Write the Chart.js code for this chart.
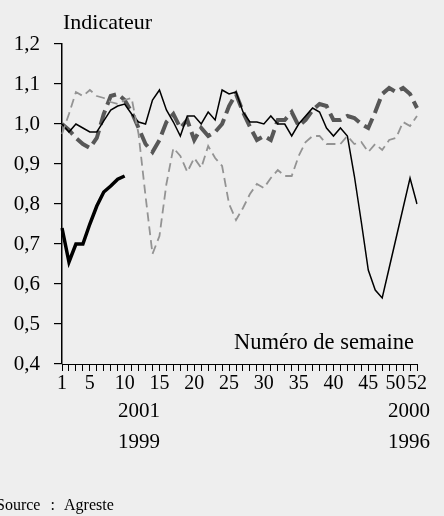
<!DOCTYPE html>
<html>
<head>
<meta charset="utf-8">
<script src="https://cdn.jsdelivr.net/npm/chart.js@4.4.0/dist/chart.umd.min.js"></script>
<style>
html,body{margin:0;padding:0;background:#eeeeee;}
#wrap{position:relative;width:444px;height:516px;overflow:hidden;background:#eeeeee;font-family:"Liberation Serif","Times New Roman",serif;color:#000;}
#c{position:absolute;left:0;top:0;}
.t{position:absolute;white-space:nowrap;line-height:1;}
</style>
</head>
<body>
<div id="wrap">
<canvas id="c" width="444" height="516"></canvas>
<div class="t" style="left:63px;top:11px;font-size:22px;">Indicateur</div>
<div class="t" style="left:234px;top:331px;font-size:22.5px;">Numéro de semaine</div>
<div class="t" style="left:-4px;top:497px;font-size:16px;word-spacing:6px;">Source : Agreste</div>
</div>
<script>
// ---- data ----
const weeks = [1,2,3,4,5,6,7,8,9,10,11,12,13,14,15,16,17,18,19,20,21,22,23,24,25,26,
               27,28,29,30,31,32,33,34,35,36,37,38,39,40,41,42,43,44,45,46,47,48,49,50,51,52];
const xTickWeeks = [1,5,10,15,20,25,30,35,40,45,50,52];
const yTickValues = [0.4,0.5,0.6,0.7,0.8,0.9,1.0,1.1,1.2];
const yTickLabels = ['0,4','0,5','0,6','0,7','0,8','0,9','1,0','1,1','1,2'];
const seriesNames = ['2001','2000','1999','1996'];

const s2001 = [0.74,0.655,0.70,0.70,0.75,0.795,0.83,0.845,0.862,0.87];
const s2000 = [1.00,0.98,1.00,0.99,0.98,0.98,1.008,1.035,1.045,1.05,
               1.025,1.005,1.00,1.06,1.085,1.035,1.005,0.97,1.02,1.02,
               1.00,1.03,1.01,1.085,1.075,1.08,1.03,1.005,1.005,1.00,
               1.02,1.00,1.00,0.97,1.00,1.02,1.04,1.03,0.99,0.97,
               0.99,0.97,0.87,0.755,0.635,0.585,0.565,0.64,0.715,0.79,
               0.865,0.80];
const s1999 = [1.00,0.985,0.965,0.95,0.94,0.965,1.025,1.07,1.075,1.06,
               1.03,0.99,0.95,0.93,0.96,1.005,1.025,0.99,1.01,0.96,
               0.99,0.97,0.98,1.00,1.045,1.075,1.03,0.993,0.96,0.97,
               0.96,1.01,1.01,1.03,0.995,1.01,1.035,1.05,1.045,1.01,
               1.01,1.02,1.015,1.00,0.99,1.03,1.075,1.09,1.08,1.09,
               1.075,1.04];
const s1996 = [0.975,1.025,1.08,1.07,1.085,1.07,1.065,1.055,1.05,1.06,
               1.065,0.975,0.82,0.675,0.72,0.85,0.94,0.92,0.88,0.915,
               0.89,0.945,0.915,0.895,0.80,0.76,0.79,0.825,0.85,0.84,
               0.865,0.885,0.87,0.87,0.92,0.955,0.97,0.97,0.95,0.95,
               0.95,0.97,0.95,0.955,0.93,0.95,0.935,0.96,0.965,1.005,
               0.995,1.02];

// ---- legend text (two columns) ----
const wrap = document.getElementById('wrap');
const legendPos = [[118,400],[388,400],[118,431],[388,431]];
seriesNames.forEach((n,i)=>{
  const d = document.createElement('div');
  d.className = 't';
  d.style.left = legendPos[i][0]+'px';
  d.style.top = legendPos[i][1]+'px';
  d.style.fontSize = '21px';
  d.textContent = n;
  wrap.appendChild(d);
});

const serif = '"Liberation Serif","Times New Roman",serif';

new Chart(document.getElementById('c'), {
  type: 'line',
  data: {
    labels: weeks.map(String),
    datasets: [
      {label: seriesNames[3], data: s1996, borderColor:'#939393', borderWidth:1.8, borderDash:[9,5]},
      {label: seriesNames[1], data: s2000, borderColor:'#000000', borderWidth:1.5},
      {label: seriesNames[2], data: s1999, borderColor:'#575757', borderWidth:4, borderDash:[15,6]},
      {label: seriesNames[0], data: s2001, borderColor:'#000000', borderWidth:3.5}
    ]
  },
  options: {
    responsive: false,
    animation: false,
    devicePixelRatio: 1,
    layout: {padding: {left:0, top:44, right:27, bottom:0}},
    elements: {point: {radius:0}, line: {tension:0, fill:false, borderCapStyle:'butt', borderJoinStyle:'miter'}},
    plugins: {legend: {display:false}, tooltip: {enabled:false}},
    scales: {
      x: {
        type: 'category',
        offset: false,
        afterFit: s => { s.height = 152; },
        border: {display:true, color:'#000', width:1},
        grid: {drawOnChartArea:false, drawTicks:true, tickLength:7, color:'#000', lineWidth:1},
        ticks: {
          autoSkip:false, maxRotation:0, minRotation:0, padding:1,
          color:'#000', font:{family:serif, size:20},
          callback: (val, idx) => {
            const w = weeks[idx];
            if (!xTickWeeks.includes(w)) return '';
            return w === 50 ? '50   ' : String(w);
          }
        }
      },
      y: {
        min: 0.4, max: 1.2,
        afterFit: s => { s.width = 62; },
        afterBuildTicks: s => { s.ticks = yTickValues.map(v => ({value: v})); },
        border: {display:true, color:'#000', width:1.5},
        grid: {drawOnChartArea:false, drawTicks:true, tickLength:8, color:'#000', lineWidth:1.2},
        ticks: {
          padding:14, color:'#000', font:{family:serif, size:21},
          callback: (val, idx) => yTickLabels[idx]
        }
      }
    }
  }
});
</script>
</body>
</html>
